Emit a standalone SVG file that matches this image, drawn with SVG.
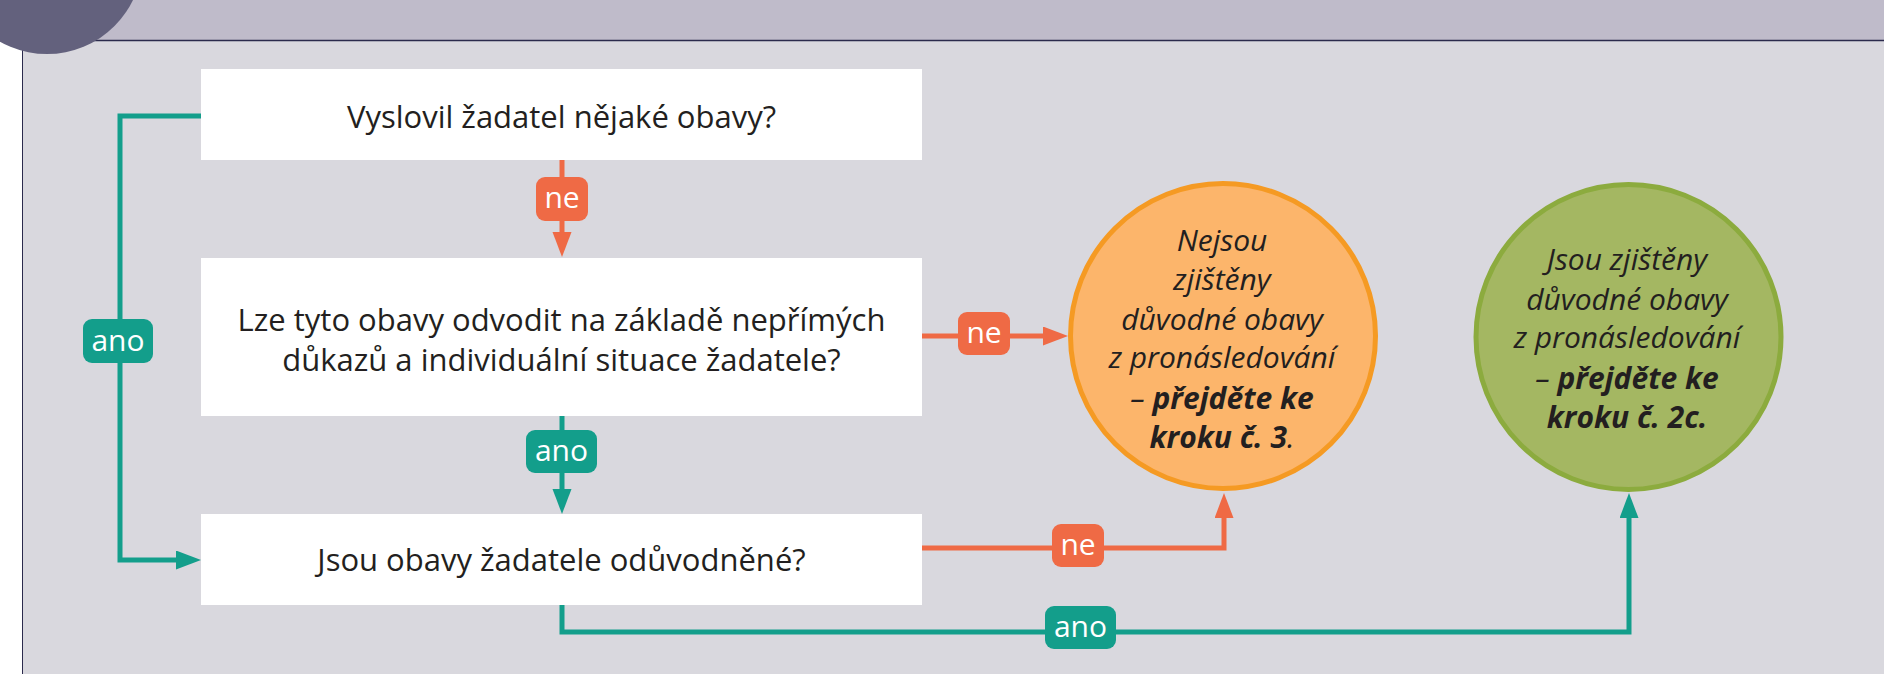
<svg xmlns="http://www.w3.org/2000/svg" width="1884" height="674" viewBox="0 0 1884 674">
<defs>
<style>
.box{fill:#ffffff}
.qt{font-family:"Open Sans","Noto Sans",sans-serif;font-size:31px;fill:#231f20;text-anchor:middle}
.ct{font-family:"Open Sans","Noto Sans",sans-serif;font-size:30px;font-style:italic;fill:#231f20;text-anchor:middle}
.b{font-weight:bold}
.lt{font-family:"Open Sans","Noto Sans",sans-serif;font-size:30px;fill:#ffffff;text-anchor:middle}
.teal{stroke:#139e8b;stroke-width:5;fill:none}
.org{stroke:#ef6a45;stroke-width:5;fill:none}
.tealf{fill:#139e8b}
.orgf{fill:#ef6a45}
</style>
<marker id="aT" markerUnits="userSpaceOnUse" markerWidth="26" markerHeight="20" refX="15" refY="9.5" orient="auto">
<path d="M0,0 L25,9.5 L0,19 Z" fill="#139e8b"/>
</marker>
<marker id="aO" markerUnits="userSpaceOnUse" markerWidth="26" markerHeight="20" refX="15" refY="9.5" orient="auto">
<path d="M0,0 L25,9.5 L0,19 Z" fill="#ef6a45"/>
</marker>
</defs>
<rect x="0" y="0" width="1884" height="674" fill="#ffffff"/>
<rect x="0" y="0" width="1884" height="40" fill="#bfbbca"/>
<rect x="22.5" y="40" width="1862" height="634" fill="#d9d8de"/>
<line x1="0" y1="40.5" x2="1884" y2="40.5" stroke="#2b2a4c" stroke-width="1.5"/>
<line x1="22.5" y1="40" x2="22.5" y2="674" stroke="#2b2a4c" stroke-width="1"/>
<circle cx="47" cy="-41.5" r="95.5" fill="#63617d"/>

<g id="connectors">
<path class="teal" d="M201,116 H120 V560 H191" marker-end="url(#aT)"/>
<path class="org" d="M562,160 V247" marker-end="url(#aO)"/>
<path class="org" d="M922,336 H1058" marker-end="url(#aO)"/>
<path class="teal" d="M562,416 V504" marker-end="url(#aT)"/>
<path class="org" d="M922,548 H1224 V503" marker-end="url(#aO)"/>
<path class="teal" d="M562,605 V632 H1629 V503" marker-end="url(#aT)"/>
<g id="lbl-ano-left"><rect class="tealf" x="83" y="319" width="70" height="44" rx="9"/><text class="lt" x="118" y="351">ano</text></g>
<g id="lbl-ne-1"><rect class="orgf" x="536" y="177" width="52" height="44" rx="9"/><text class="lt" x="562" y="208">ne</text></g>
<g id="lbl-ne-2"><rect class="orgf" x="958" y="312" width="52" height="43" rx="9"/><text class="lt" x="984" y="343">ne</text></g>
<g id="lbl-ano-mid"><rect class="tealf" x="526" y="430" width="71" height="43" rx="9"/><text class="lt" x="561.5" y="461">ano</text></g>
<g id="lbl-ne-3"><rect class="orgf" x="1052" y="524" width="52" height="43" rx="9"/><text class="lt" x="1078" y="555">ne</text></g>
<g id="lbl-ano-bottom"><rect class="tealf" x="1045" y="606" width="71" height="43" rx="9"/><text class="lt" x="1080.5" y="637">ano</text></g>
</g>

<g id="q1">
<rect class="box" x="201" y="69" width="721" height="91"/>
<text class="qt" x="561.5" y="128">Vyslovil žadatel nějaké obavy?</text>
</g>
<g id="q2">
<rect class="box" x="201" y="258" width="721" height="158"/>
<text class="qt" x="561.5" y="331">Lze tyto obavy odvodit na základě nepřímých</text>
<text class="qt" x="561.5" y="371">důkazů a individuální situace žadatele?</text>
</g>
<g id="q3">
<rect class="box" x="201" y="514" width="721" height="91"/>
<text class="qt" x="561.5" y="571">Jsou obavy žadatele odůvodněné?</text>
</g>

<g id="end-no">
<circle cx="1223" cy="336" r="152.5" fill="#fcb56b" stroke="#f59a23" stroke-width="5"/>
<text class="ct" x="1222" y="251">Nejsou</text>
<text class="ct" x="1222" y="290">zjištěny</text>
<text class="ct" x="1222" y="330">důvodné obavy</text>
<text class="ct" x="1222" y="368">z pronásledování</text>
<text class="ct" x="1222" y="409">– <tspan class="b">přejděte ke</tspan></text>
<text class="ct" x="1222" y="448"><tspan class="b">kroku č. 3</tspan>.</text>
</g>

<g id="end-yes">
<circle cx="1628.5" cy="337" r="152.5" fill="#a4b762" stroke="#8cab3e" stroke-width="5"/>
<text class="ct" x="1627" y="270">Jsou zjištěny</text>
<text class="ct" x="1627" y="310">důvodné obavy</text>
<text class="ct" x="1627" y="348">z pronásledování</text>
<text class="ct" x="1627" y="389">– <tspan class="b">přejděte ke</tspan></text>
<text class="ct b" x="1627" y="428">kroku č. 2c.</text>
</g>
</svg>
